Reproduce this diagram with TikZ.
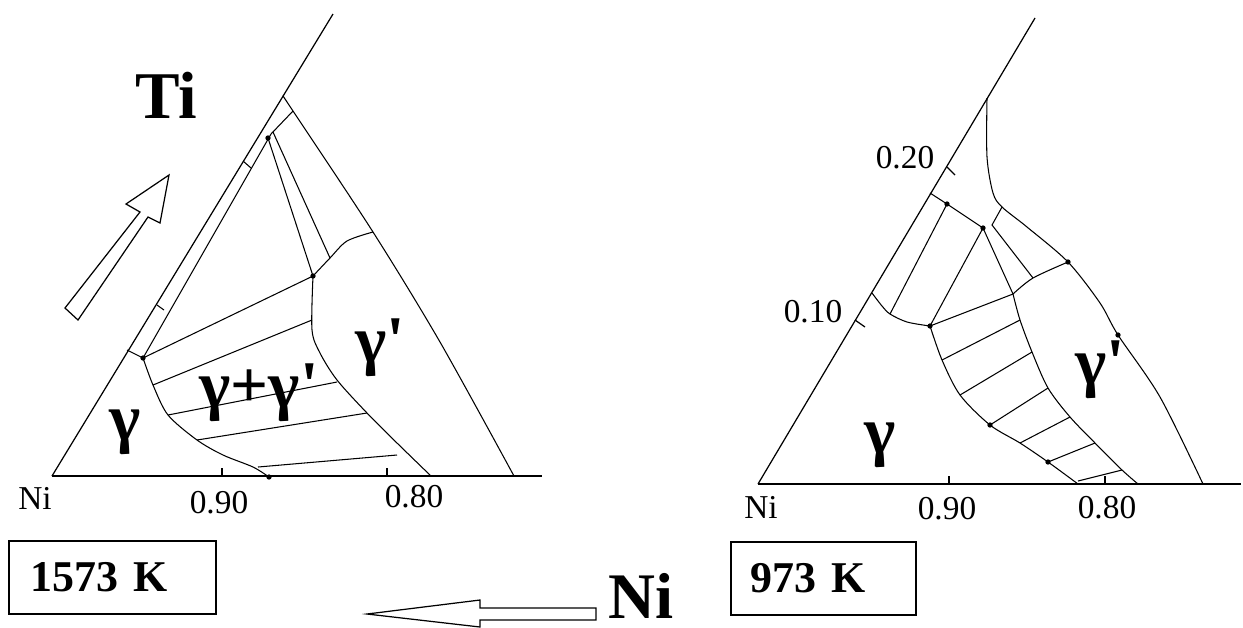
\documentclass[tikz,border=0pt]{standalone}
\usepackage{fontspec}
\setmainfont{Liberation Serif}
\newfontfamily\phasefont{Liberation Serif}
\usetikzlibrary{positioning}

\begin{document}
\begin{tikzpicture}[x=0.02cm, y=-0.02cm,
    every node/.style={inner sep=0pt},
    edge/.style={line width=0.7pt},
    phase/.style={line width=0.6pt},
    axislab/.style={font=\fontsize{19}{21}\selectfont},
    element/.style={font=\fontsize{38}{40}\selectfont\bfseries},
    region/.style={font=\phasefont\fontsize{38}{40}\selectfont\bfseries},
    tempbox/.style={draw, line width=1pt, minimum height=1.46cm, align=left,
        font=\fontsize{25}{27}\selectfont\bfseries},
    junction/.style={circle, fill, inner sep=0pt, minimum size=3pt},
    hollow/.style={draw, line width=0.7pt, line join=miter},
]
\useasboundingbox (0,0) rectangle (1243,627);

% 1573 K section
\coordinate (niA) at (52,476);
\coordinate (tipA) at (333,14);
\coordinate (endA) at (542,476);
\coordinate (topA) at (283,96);
\coordinate (rA) at (293,111);
\coordinate (pA) at (271,134);
\coordinate (bA) at (143,358);
\coordinate (tA) at (313,276);
\coordinate (qA) at (373,232);

\draw[edge] (niA) -- (tipA);
\draw[edge] (niA) -- (endA);
\draw[edge] (222,476) -- (222,468);
\draw[edge] (387,476) -- (387,468);

\draw[phase] plot[smooth] coordinates {(topA) (rA) (qA) (440,342) (514,476)};
\draw[phase] (rA) -- (pA) -- (bA);
\draw[phase] (243,161) -- (251,168);
\draw[phase] (157,305) -- (164,310);
\draw[phase] (127,350) -- (bA);
\draw[phase] (268,138) -- (tA);
\draw[phase] (273,132) -- (330,258);
\draw[phase] plot[smooth] coordinates {(tA) (330,258) (347,241) (qA)};
\draw[phase] plot[smooth] coordinates {(tA) (312,330) (320,353) (337,380) (367,413) (397,443) (431,476)};
\draw[phase] plot[smooth] coordinates {(bA) (153,385) (168,415) (197,440) (223,455) (253,467) (269,477)};
\draw[phase] (bA) -- (tA);
\draw[phase] (153,385) -- (312,320);
\draw[phase] (168,415) -- (337,382);
\draw[phase] (197,440) -- (367,413);
\draw[phase] (258,467) -- (397,455);

\node[junction] (jA1) at (tA) {};
\node[junction] (jA2) at (268,138) {};
\node[junction] (jA3) at (bA) {};
\node[junction] (jA4) at (269,477) {};

\node[element] (ti) at (166,95) {Ti};
\node[axislab] (niAlab) at (35,498) {Ni};
\node[axislab] (a90) at (219,503) {0.90};
\node[axislab] (a80) at (414,497) {0.80};
\node[region] (gA) at (125,432) {γ};
\node[region] (ggA) at (259,393) {γ+γ'};
\node[region] (gpA) at (380,348) {γ'};

\draw[hollow] (65,308) -- (140,212) -- (126,204) -- (169,175) -- (160,223)
    -- (148,217) -- (78,320) -- cycle;

\node[tempbox, anchor=north west, minimum width=4.14cm, text width=3.26cm,
    inner xsep=0.44cm] (hot) at (8,540) {1573 K};

\draw[hollow] (596,608) -- (480,608) -- (480,600) -- (367,614) -- (480,627)
    -- (480,620) -- (596,620) -- cycle;
\node[element, font=\fontsize{37}{39}\selectfont\bfseries] (ni) at (641,596) {Ni};

% 973 K section
\coordinate (niB) at (758,484);
\coordinate (tipB) at (1035,18);
\coordinate (endB) at (1241,484);
\coordinate (topB) at (987,98);
\coordinate (cB) at (983,228);
\coordinate (dB) at (947,204);
\coordinate (eB) at (930,326);
\coordinate (fB) at (1013,294);
\coordinate (gB) at (992,225);
\coordinate (hB) at (1068,262);

\draw[edge] (niB) -- (tipB);
\draw[edge] (niB) -- (endB);
\draw[edge] (949,484) -- (949,476);
\draw[edge] (1105,484) -- (1105,476);
\draw[edge] (947,167) -- (955,175);
\draw[edge] (855,320) -- (865,327);

\draw[phase] plot[smooth] coordinates {(topB) (987,157) (993,193) (1002,207) (1027,227)
    (hB) (1100,303) (1118,335) (1160,397) (1203,484)};
\draw[phase] (930,193) -- (dB) -- (cB);
\draw[phase] (dB) -- (890,314);
\draw[phase] plot[smooth] coordinates {(872,293) (882,306) (890,314) (907,322) (eB)};
\draw[phase] (cB) -- (eB);
\draw[phase] (cB) -- (fB);
\draw[phase] (1002,207) -- (gB) -- (1033,278);
\draw[phase] plot[smooth] coordinates {(fB) (1033,278) (hB)};
\draw[phase] plot[smooth] coordinates {(eB) (942,360) (960,395) (990,425) (1020,443) (1048,462) (1078,484)};
\draw[phase] plot[smooth] coordinates {(fB) (1020,320) (1032,352) (1048,388) (1070,417) (1095,443) (1122,470) (1138,484)};
\draw[phase] (eB) -- (fB);
\draw[phase] (942,360) -- (1020,320);
\draw[phase] (960,395) -- (1032,352);
\draw[phase] (990,425) -- (1048,388);
\draw[phase] (1020,443) -- (1070,417);
\draw[phase] (1048,462) -- (1095,443);
\draw[phase] (1078,481) -- (1122,470);

\node[junction] (jB1) at (cB) {};
\node[junction] (jB2) at (dB) {};
\node[junction] (jB3) at (eB) {};
\node[junction] (jB4) at (hB) {};
\node[junction] (jB5) at (990,425) {};
\node[junction] (jB6) at (1048,462) {};
\node[junction] (jB7) at (1118,335) {};

\node[axislab] (niBlab) at (761,507) {Ni};
\node[axislab] (b90) at (947,509) {0.90};
\node[axislab] (b80) at (1107,508) {0.80};
\node[axislab] (b20) at (905,158) {0.20};
\node[axislab] (b10) at (813,312) {0.10};
\node[region] (gB) at (880,445) {γ};
\node[region] (gpB) at (1100,370) {γ'};

\node[tempbox, anchor=north west, minimum width=3.7cm, text width=2.9cm,
    inner xsep=0.4cm] (cold) at (730,541) {973 K};
\end{tikzpicture}
\end{document}
